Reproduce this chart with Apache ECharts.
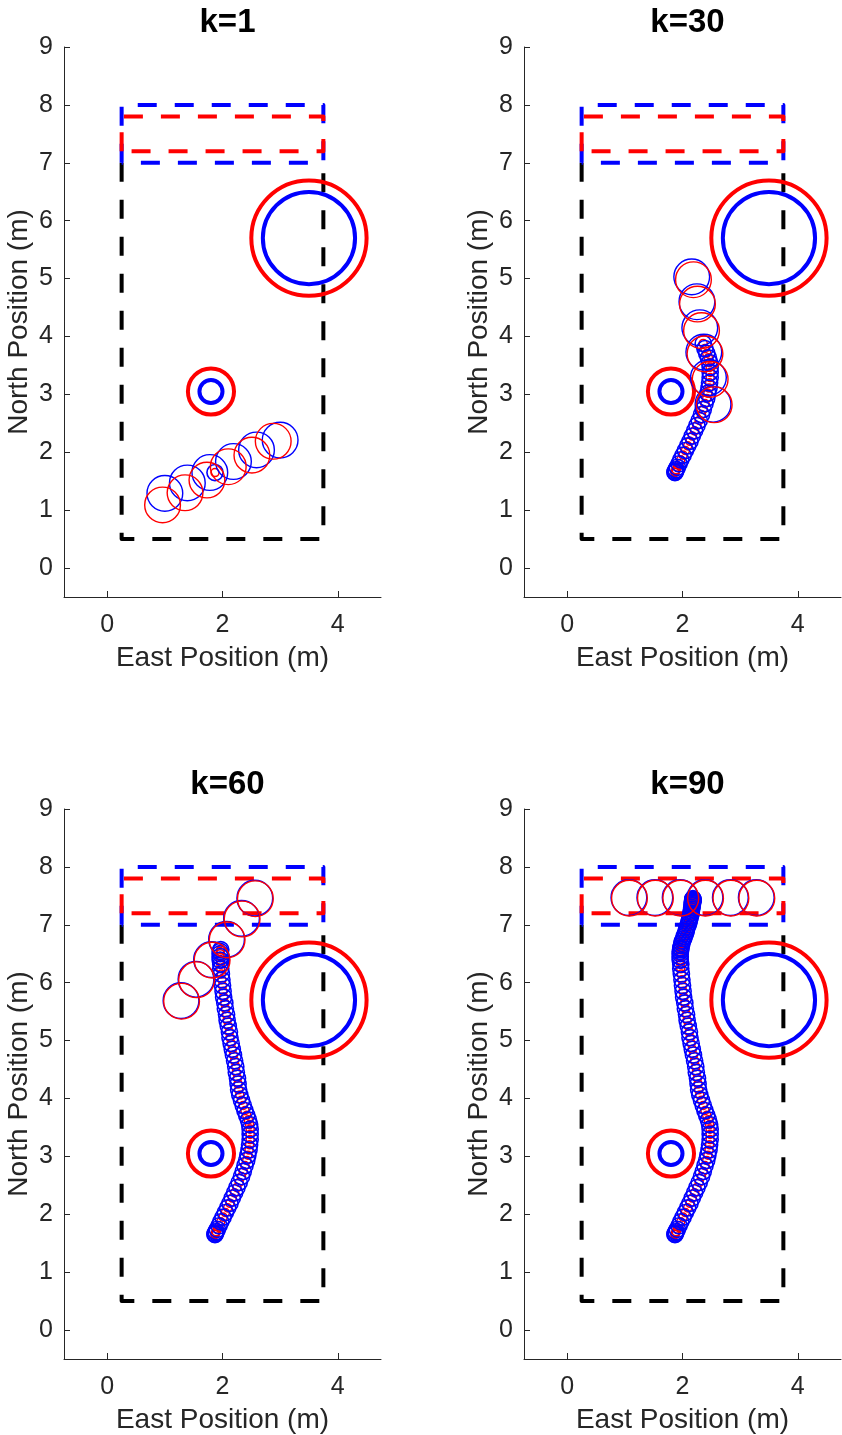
<!DOCTYPE html>
<html><head><meta charset="utf-8">
<script src="https://cdn.jsdelivr.net/npm/echarts@6/dist/echarts.min.js"></script>
<style>html,body{margin:0;padding:0;background:#fff}#c{width:842px;height:1435px}</style>
</head><body><div id="c"></div>
<script>
// ---------- data ----------
const panelTitles = ['k=1', 'k=30', 'k=60', 'k=90'];
const panelSteps = [1, 30, 60, 90];
const xTicks = [0, 2, 4];
const yTicks = [0, 1, 2, 3, 4, 5, 6, 7, 8, 9];
const xName = 'East Position (m)';
const yName = 'North Position (m)';

// workspace boundary (black dashed)
const boundaryX = [0.25, 0.25, 3.75, 3.75];
const boundaryY = [7, 0.5, 0.5, 7];
// goal region (blue dashed) and shrunk goal (red dashed)
const goalX = [0.25, 0.25, 3.75, 3.75, 0.25];
const goalY = [7, 8, 8, 7, 7];
const goalInnerX = [0.25, 0.25, 3.75, 3.75, 0.25];
const goalInnerY = [7.2, 7.8, 7.8, 7.2, 7.2];

// static obstacles
const obstacleX = [3.5, 1.8];
const obstacleY = [5.7, 3.05];
const obstacleR = [0.8, 0.2];
const obstacleSafeR = [1.0, 0.4];

// executed trajectory (one point per step)
const trajX = [1.87,1.87,1.88,1.89,1.91,1.94,1.97,2.01,2.05,2.09,
               2.13,2.17,2.21,2.25,2.29,2.33,2.36,2.39,2.42,2.44,
               2.46,2.47,2.48,2.48,2.48,2.47,2.45,2.42,2.39,2.36,
               2.33,2.30,2.28,2.27,2.26,2.24,2.23,2.21,2.19,2.17,
               2.15,2.13,2.12,2.10,2.08,2.07,2.05,2.04,2.02,2.01,
               2.00,1.99,1.98,1.97,1.97,1.96,1.96,1.96,1.96,1.97,
               1.97,1.98,1.99,2.00,2.02,2.03,2.05,2.06,2.07,2.08,
               2.10,2.11,2.12,2.13,2.14,2.15,2.15,2.16,2.16,2.17,
               2.17,2.17,2.17,2.18,2.18,2.18,2.18,2.18,2.18,2.18];
const trajY = [1.65,1.66,1.68,1.70,1.74,1.80,1.87,1.95,2.03,2.11,
               2.19,2.28,2.37,2.46,2.55,2.65,2.74,2.84,2.93,3.02,
               3.11,3.20,3.29,3.38,3.47,3.55,3.63,3.71,3.79,3.88,
               3.97,4.06,4.15,4.25,4.35,4.45,4.55,4.65,4.75,4.85,
               4.95,5.05,5.15,5.25,5.35,5.45,5.55,5.65,5.75,5.85,
               5.95,6.05,6.15,6.24,6.32,6.39,6.45,6.50,6.54,6.57,
               6.60,6.64,6.68,6.72,6.76,6.80,6.84,6.88,6.92,6.96,
               7.00,7.04,7.08,7.12,7.16,7.20,7.24,7.27,7.30,7.33,
               7.35,7.37,7.39,7.40,7.41,7.42,7.43,7.44,7.44,7.45];
const trailR = 0.14;
const trailInnerR = 0.07;

// predicted horizon circles per panel
const horizonBlueX = [[1.00,1.39,1.78,2.19,2.59,3.00],[2.53,2.45,2.37,2.30,2.25,2.16],[1.28,1.54,1.81,2.07,2.33,2.56],[1.07,1.52,1.96,2.39,2.83,3.28]];
const horizonBlueY = [[1.29,1.47,1.65,1.84,2.04,2.21],[2.83,3.29,3.73,4.15,4.60,5.03],[5.69,6.06,6.40,6.75,7.11,7.46],[7.47,7.47,7.47,7.47,7.47,7.47]];
const horizonRedX  = [[0.96,1.35,1.73,2.10,2.51,2.88],[2.55,2.48,2.39,2.33,2.26,2.19],[1.29,1.55,1.82,2.08,2.34,2.57],[1.08,1.53,1.97,2.40,2.84,3.29]];
const horizonRedY  = [[1.09,1.30,1.52,1.75,1.95,2.19],[2.82,3.26,3.70,4.10,4.56,4.98],[5.68,6.05,6.39,6.74,7.10,7.45],[7.46,7.46,7.46,7.46,7.46,7.46]];
const horizonR = 0.31;

// ---------- chart ----------
const FONT = 'Liberation Sans, Arial, Helvetica, sans-serif';
const AX = '#262626';
const gridPos = [
  {left: 64, top: 47}, {left: 524, top: 47},
  {left: 64, top: 809}, {left: 524, top: 809}
];
const GW = 317, GH = 550;

function circleSeries(i, xs, ys, rs, color, lw, z) {
  const data = xs.map((x, j) => [x, ys[j], Array.isArray(rs) ? rs[j] : rs]);
  return {
    type: 'custom', xAxisIndex: i, yAxisIndex: i, data, z, silent: true,
    renderItem: (params, api) => {
      const c = api.coord([api.value(0), api.value(1)]);
      const r = api.size([api.value(2), 0])[0];
      return {type: 'circle', shape: {cx: c[0], cy: c[1], r},
              style: {fill: 'none', stroke: color, lineWidth: lw}};
    }
  };
}
function dashSeries(i, xs, ys, color, z) {
  return {
    type: 'line', xAxisIndex: i, yAxisIndex: i, symbol: 'none', silent: true, z,
    data: xs.map((x, j) => [x, ys[j]]),
    lineStyle: {color, width: 4, type: [19, 18], cap: 'butt', join: 'round'}
  };
}

const grids = [], xAxes = [], yAxes = [], titles = [], series = [];
for (let i = 0; i < 4; i++) {
  grids.push({left: gridPos[i].left, top: gridPos[i].top, width: GW, height: GH});
  titles.push({
    text: panelTitles[i], left: gridPos[i].left + GW / 2, textAlign: 'center',
    top: gridPos[i].top - 46,
    textStyle: {fontFamily: FONT, fontSize: 33, fontWeight: 'bold', color: '#000'}
  });
  xAxes.push({
    gridIndex: i, type: 'value', min: -0.75, max: 4.75,
    name: xName, nameLocation: 'middle', nameGap: 47,
    nameTextStyle: {fontFamily: FONT, fontSize: 28, color: AX},
    axisLine: {show: true, onZero: false, lineStyle: {color: AX, width: 1}},
    axisTick: {show: true, inside: true, length: 6, customValues: xTicks, lineStyle: {color: AX}},
    axisLabel: {show: true, customValues: xTicks, margin: 16, fontFamily: FONT, fontSize: 25, color: AX},
    splitLine: {show: false}
  });
  yAxes.push({
    gridIndex: i, type: 'value', min: -0.5, max: 9,
    name: yName, nameLocation: 'middle', nameGap: 31, nameRotate: 90,
    nameTextStyle: {fontFamily: FONT, fontSize: 28, color: AX},
    axisLine: {show: true, onZero: false, lineStyle: {color: AX, width: 1}},
    axisTick: {show: true, inside: true, length: 6, customValues: yTicks, lineStyle: {color: AX}},
    axisLabel: {show: true, customValues: yTicks, margin: 11, fontFamily: FONT, fontSize: 25, color: AX},
    splitLine: {show: false}
  });

  series.push(dashSeries(i, boundaryX, boundaryY, '#000000', 2));
  series.push(dashSeries(i, goalX, goalY, '#0000ff', 3));
  series.push(dashSeries(i, goalInnerX, goalInnerY, '#ff0000', 4));
  series.push(circleSeries(i, obstacleX, obstacleY, obstacleSafeR, '#ff0000', 4, 5));
  series.push(circleSeries(i, obstacleX, obstacleY, obstacleR, '#0000ff', 4, 5));
  const n = panelSteps[i];
  series.push(circleSeries(i, trajX.slice(0, n), trajY.slice(0, n), trailInnerR, '#ff0000', 1.5, 6));
  series.push(circleSeries(i, trajX.slice(0, n), trajY.slice(0, n), trailR, '#0000ff', 1.6, 7));
  series.push(circleSeries(i, horizonBlueX[i], horizonBlueY[i], horizonR, '#0000ff', 1.4, 8));
  series.push(circleSeries(i, horizonRedX[i], horizonRedY[i], horizonR, '#ff0000', 1.4, 9));
}

const chart = echarts.init(document.getElementById('c'), null, {renderer: 'canvas'});
chart.setOption({
  backgroundColor: '#ffffff', animation: false,
  title: titles, grid: grids, xAxis: xAxes, yAxis: yAxes, series
});
</script>
</body></html>
